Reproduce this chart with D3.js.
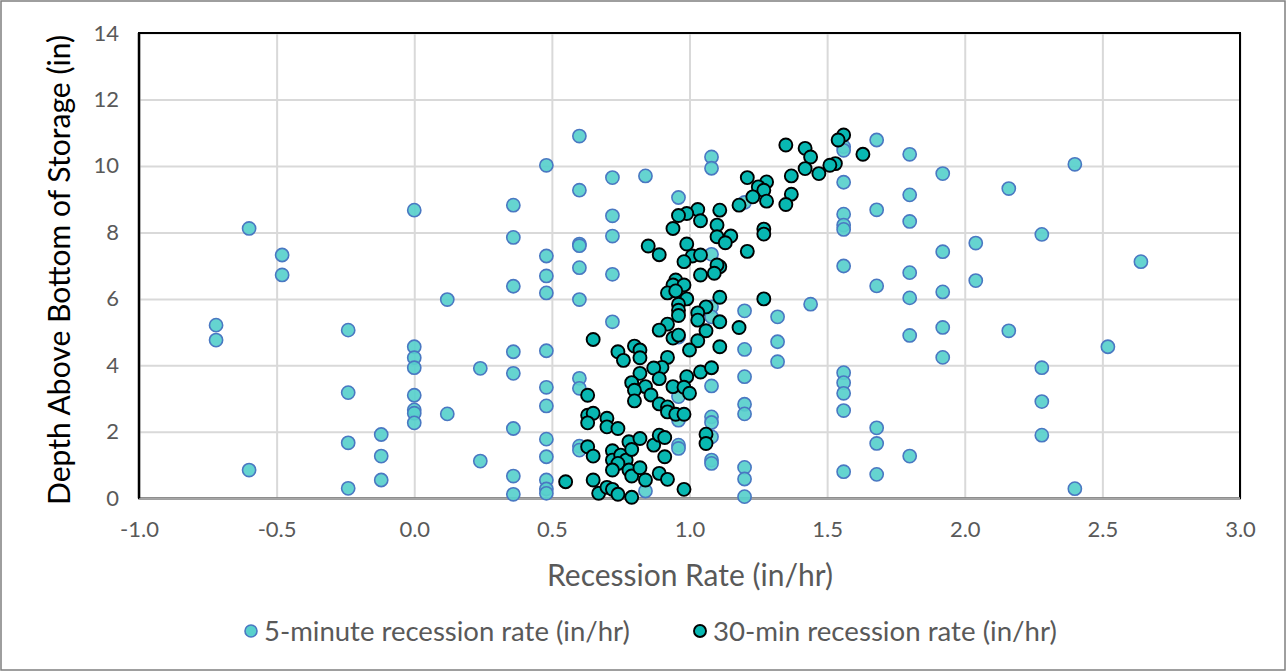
<!DOCTYPE html>
<html>
<head>
<meta charset="utf-8">
<script src="https://cdn.jsdelivr.net/npm/d3@7"></script>
<style>
  html, body { margin: 0; padding: 0; background: #fff; }
  svg { display: block; }
  text { font-family: Lato, "Open Sans", sans-serif; }
</style>
</head>
<body>
<svg id="chart" width="1287" height="672"></svg>
<script>
// ---------------- DATA ----------------
const seriesNames = ["5-minute recession rate (in/hr)", "30-min recession rate (in/hr)"];
const xTickValues = [-1.0, -0.5, 0.0, 0.5, 1.0, 1.5, 2.0, 2.5, 3.0];
const yTickValues = [0, 2, 4, 6, 8, 10, 12, 14];
const xTitle = "Recession Rate (in/hr)";
const yTitle = "Depth Above Bottom of Storage (in)";

// 5-minute recession rate: [rate, depth]
const fiveMinPoints = [
  [-0.72,5.21],[-0.72,4.76],
  [-0.60,8.12],[-0.60,0.85],
  [-0.48,7.32],[-0.48,6.72],
  [-0.24,5.06],[-0.24,3.18],[-0.24,1.67],[-0.24,0.30],
  [-0.12,1.92],[-0.12,1.27],[-0.12,0.55],
  [0.00,8.67],[0.00,4.56],[0.00,4.23],[0.00,3.93],[0.00,3.10],[0.00,2.66],[0.00,2.56],[0.00,2.27],
  [0.12,5.98],[0.12,2.54],
  [0.24,3.91],[0.24,1.12],
  [0.36,8.82],[0.36,7.85],[0.36,6.38],[0.36,4.41],[0.36,3.76],[0.36,2.10],[0.36,0.67],[0.36,0.12],
  [0.48,10.02],[0.48,7.29],[0.48,6.69],[0.48,6.18],[0.48,4.44],[0.48,3.34],[0.48,2.78],[0.48,1.78],[0.48,1.25],[0.48,0.55],[0.48,0.28],[0.48,0.15],
  [0.60,10.90],[0.60,9.27],[0.60,7.65],[0.60,7.60],[0.60,6.94],[0.60,5.98],[0.60,3.61],[0.60,3.31],[0.60,1.57],[0.60,1.45],
  [0.72,9.65],[0.72,8.50],[0.72,7.89],[0.72,6.74],[0.72,5.31],
  [0.84,9.70],[0.84,0.22],
  [0.96,9.05],[0.96,4.85],[0.96,3.06],[0.96,2.35],[0.96,1.60],[0.96,1.50],
  [1.08,10.27],[1.08,9.93],[1.08,7.34],[1.08,5.76],[1.08,5.46],[1.08,3.38],[1.08,2.45],[1.08,2.28],[1.08,1.85],[1.08,1.15],[1.08,1.05],
  [1.20,8.90],[1.20,5.64],[1.20,4.48],[1.20,3.66],[1.20,2.83],[1.20,2.54],[1.20,0.93],[1.20,0.58],[1.20,0.05],
  [1.32,5.46],[1.32,4.71],[1.32,4.11],
  [1.44,5.84],
  [1.56,10.58],[1.56,10.47],[1.56,9.51],[1.56,8.55],[1.56,8.22],[1.56,8.09],[1.56,6.99],[1.56,3.78],[1.56,3.48],[1.56,3.16],[1.56,2.64],[1.56,0.80],
  [1.68,10.78],[1.68,8.68],[1.68,6.39],[1.68,2.12],[1.68,1.65],[1.68,0.72],
  [1.80,10.35],[1.80,9.13],[1.80,8.33],[1.80,6.79],[1.80,6.03],[1.80,4.90],[1.80,1.27],
  [1.92,9.77],[1.92,7.42],[1.92,6.21],[1.92,5.14],[1.92,4.24],
  [2.04,7.68],[2.04,6.55],
  [2.16,9.32],[2.16,5.04],
  [2.28,7.94],[2.28,3.93],[2.28,2.91],[2.28,1.90],
  [2.40,10.05],[2.40,0.29],
  [2.52,4.56],
  [2.64,7.12]
];

// 30-minute recession rate: [rate, depth]
const thirtyMinPoints = [
  [1.56,10.93],[1.54,10.78],[1.35,10.63],[1.42,10.53],[1.44,10.27],[1.63,10.35],
  [1.53,10.07],[1.51,10.02],[1.47,9.77],[1.42,9.92],[1.37,9.70],
  [1.21,9.65],[1.28,9.52],[1.25,9.37],[1.27,9.27],[1.37,9.15],[1.23,9.07],[1.28,8.94],
  [1.35,8.84],[1.18,8.82],[1.11,8.67],[1.03,8.69],[0.99,8.57],[0.96,8.51],[1.04,8.35],
  [0.94,8.12],[1.10,8.22],[1.27,8.10],[1.27,7.95],[1.15,7.89],[1.10,7.87],[1.13,7.69],
  [0.85,7.59],[0.89,7.33],[0.99,7.65],[1.21,7.43],[1.01,7.29],[1.04,7.32],[0.98,7.12],
  [1.11,6.97],[1.10,7.02],[1.09,6.77],[1.04,6.72],[0.95,6.57],[0.94,6.42],[0.98,6.42],
  [0.92,6.18],[0.95,6.24],[0.99,6.00],[1.11,6.05],[1.27,6.00],
  [0.96,5.84],[0.96,5.66],[0.96,5.50],[1.06,5.76],[1.03,5.58],[1.03,5.36],[1.11,5.31],
  [1.18,5.14],[0.92,5.24],[0.89,5.06],[0.94,4.82],[0.96,4.91],[1.06,5.04],[1.03,4.74],
  [1.00,4.46],[1.11,4.56],[0.65,4.78],[0.74,4.41],[0.76,4.15],[0.80,4.58],[0.82,4.46],
  [0.82,4.23],[0.92,4.24],[0.90,3.94],[0.87,3.92],[0.89,3.60],[0.82,3.76],[0.79,3.48],
  [0.84,3.36],[0.80,3.25],[0.80,2.93],[0.86,3.11],[1.04,3.80],[1.08,3.93],[0.99,3.66],
  [0.94,3.36],[0.98,3.34],[1.00,3.16],[0.89,2.84],[0.92,2.75],[0.92,2.60],[0.95,2.53],
  [0.98,2.53],[0.63,3.10],[0.63,2.50],[0.65,2.56],[0.63,2.27],[0.70,2.41],[0.70,2.15],
  [0.74,2.10],
  [0.63,1.55],[0.65,1.27],[0.72,1.43],[0.72,1.15],[0.75,1.30],[0.77,1.15],[0.74,1.05],
  [0.72,0.85],[0.78,1.70],[0.79,1.47],[0.82,1.80],[0.78,0.85],[0.79,0.67],[0.82,0.92],
  [0.84,0.55],[0.65,0.55],[0.67,0.15],[0.70,0.33],[0.72,0.27],[0.74,0.12],[0.79,0.03],
  [0.87,1.60],[0.89,1.90],[0.91,1.83],[0.91,1.25],[0.89,0.75],[0.92,0.57],[0.98,0.27],
  [1.06,1.93],[1.06,1.65],[0.55,0.50]
];

// ---------------- LAYOUT ----------------
const W = 1287, H = 672;
const plot = { left: 139, right: 1240, top: 33, bottom: 498.3 };

const svg = d3.select("#chart");

// outer chart border
svg.append("rect")
  .attr("x", 1).attr("y", 1).attr("width", W - 3).attr("height", H - 3)
  .attr("fill", "#fff").attr("stroke", "#7f7f7f").attr("stroke-width", 1.5);

const x = d3.scaleLinear().domain([-1, 3]).range([plot.left, plot.right]);
const y = d3.scaleLinear().domain([0, 14]).range([plot.bottom, plot.top]);

// gridlines
const grid = svg.append("g");
grid.append("g")
  .attr("transform", `translate(0,${plot.bottom})`)
  .call(d3.axisBottom(x).tickValues(xTickValues).tickSize(-(plot.bottom - plot.top)).tickFormat(""))
  .call(g => g.select(".domain").remove())
  .call(g => g.selectAll("line").attr("stroke", "#d9d9d9").attr("stroke-width", 2));
grid.append("g")
  .attr("transform", `translate(${plot.left},0)`)
  .call(d3.axisLeft(y).tickValues(yTickValues).tickSize(-(plot.right - plot.left)).tickFormat(""))
  .call(g => g.select(".domain").remove())
  .call(g => g.selectAll("line").attr("stroke", "#d9d9d9").attr("stroke-width", 2));

// plot area frame
svg.append("rect")
  .attr("x", plot.left).attr("y", plot.top)
  .attr("width", plot.right - plot.left).attr("height", plot.bottom - plot.top)
  .attr("fill", "none").attr("stroke", "#000").attr("stroke-width", 2);
// horizontal axis line (gray)
svg.append("line")
  .attr("x1", plot.left).attr("x2", plot.right)
  .attr("y1", plot.bottom).attr("y2", plot.bottom)
  .attr("stroke", "#a6a6a6").attr("stroke-width", 2);
svg.append("line")
  .attr("x1", plot.left).attr("x2", plot.left)
  .attr("y1", plot.top).attr("y2", plot.bottom)
  .attr("stroke", "#000").attr("stroke-width", 2.5);

// tick labels via axes
const xAxis = svg.append("g")
  .attr("transform", `translate(0,${plot.bottom})`)
  .call(d3.axisBottom(x).tickValues(xTickValues).tickSize(0).tickPadding(23).tickFormat(d3.format(".1f")));
xAxis.select(".domain").remove();
xAxis.attr("font-size", null);
xAxis.selectAll("text").attr("fill", "#595959").attr("font-size", 22).style("font-size", "22px")
  .text(d => d3.format(".1f")(d).replace("−", "-"));

const yAxis = svg.append("g")
  .attr("transform", `translate(${plot.left},0)`)
  .call(d3.axisLeft(y).tickValues(yTickValues).tickSize(0).tickPadding(20).tickFormat(d3.format("d")));
yAxis.select(".domain").remove();
yAxis.attr("font-size", null);
yAxis.selectAll("text").attr("fill", "#595959").attr("font-size", 22).style("font-size", "22px");

// fit text helper
function fit(sel, target) {
  const node = sel.node();
  const size = parseFloat(sel.style("font-size"));
  const len = node.getComputedTextLength();
  sel.style("font-size", (size * target / len).toFixed(2) + "px");
}

// axis titles
const xt = svg.append("text")
  .attr("x", 690).attr("y", 586)
  .attr("text-anchor", "middle").attr("fill", "#595959")
  .style("font-size", "24px").text(xTitle);
fit(xt, 286);

const yt = svg.append("text")
  .attr("transform", `translate(70,270) rotate(-90)`)
  .attr("text-anchor", "middle").attr("fill", "#000")
  .style("font-size", "24px").text(yTitle);
fit(yt, 470);

// points
const fiveStyle = { fill: "#58d0cc", stroke: "#4a78c2", sw: 1.6, r: 6.6, fo: 0.92 };
const thirtyStyle = { fill: "#08b8b2", stroke: "#000", sw: 1.9, r: 6.5, fo: 1 };

svg.append("g").selectAll("circle").data(fiveMinPoints).join("circle")
  .attr("cx", d => x(d[0])).attr("cy", d => y(d[1])).attr("r", fiveStyle.r)
  .attr("fill", fiveStyle.fill).attr("fill-opacity", fiveStyle.fo)
  .attr("stroke", fiveStyle.stroke).attr("stroke-width", fiveStyle.sw);

svg.append("g").selectAll("circle").data(thirtyMinPoints).join("circle")
  .attr("cx", d => x(d[0])).attr("cy", d => y(d[1])).attr("r", thirtyStyle.r)
  .attr("fill", thirtyStyle.fill)
  .attr("stroke", thirtyStyle.stroke).attr("stroke-width", thirtyStyle.sw);

// legend
const legendY = 631;
const legendItems = [
  { name: seriesNames[0], mx: 251, tx: 264, target: 366, st: fiveStyle },
  { name: seriesNames[1], mx: 700, tx: 713, target: 344, st: thirtyStyle }
];
const lg = svg.append("g");
legendItems.forEach(it => {
  lg.append("circle").attr("cx", it.mx).attr("cy", legendY).attr("r", 6)
    .attr("fill", it.st.fill).attr("stroke", it.st.stroke).attr("stroke-width", it.st.sw);
  const t = lg.append("text").attr("x", it.tx).attr("y", legendY)
    .attr("dy", "0.35em").attr("fill", "#595959").style("font-size", "22px").text(it.name);
  fit(t, it.target);
});
</script>
</body>
</html>
